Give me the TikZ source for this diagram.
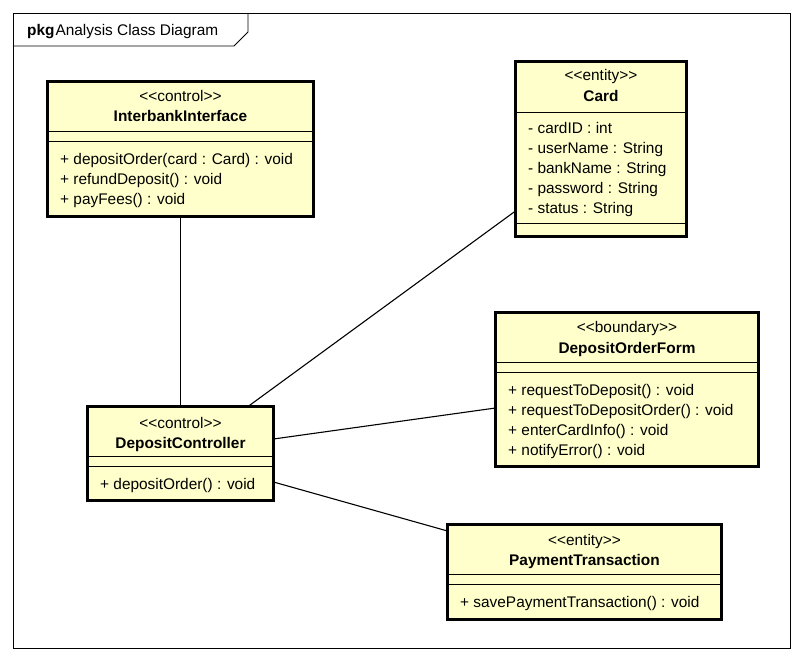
\documentclass[tikz,border=0pt]{standalone}
\usepackage{fontspec}
\newfontfamily\umlfont{Liberation Sans}
\definecolor{umlfill}{HTML}{FFFFCC}
\begin{document}
\begin{tikzpicture}[x=1pt,y=-1pt,
  font=\umlfont\fontsize{15.4}{18}\selectfont,
  cls/.style={draw, line width=3pt, fill=umlfill, anchor=north west, inner sep=0pt, outer sep=0pt},
  sepline/.style={line width=0.9pt},
  conn/.style={line width=1.1pt},
  stereo/.style={anchor=mid, inner sep=0pt, yshift=-2.5pt},
  cname/.style={anchor=mid, inner sep=0pt, yshift=-2.5pt, font=\umlfont\bfseries\fontsize{15.4}{18}\selectfont},
  member/.style={anchor=mid west, inner sep=0pt, yshift=-2.5pt},
  framebox/.style={draw, line width=0.9pt, anchor=north west, inner sep=0pt, outer sep=0pt, minimum width=777pt, minimum height=635pt}
]
\useasboundingbox (0,0) rectangle (804,661);
% frame
\node[framebox] (frame) at (13,13) {};
\draw[line width=0.9pt] (13,46) -- (234,46) -- (248,32) -- (248,13);
\node[anchor=mid west, inner sep=0pt, yshift=-2.5pt] (title) at (27,31) {\textbf{pkg}\kern1pt Analysis Class Diagram};

% InterbankInterface
\node[cls, minimum width=266pt, minimum height=135pt] (ii) at (47.5,81.5) {};
\draw[sepline] (ii.west |- 0,131) -- (ii.east |- 0,131);
\draw[sepline] (ii.west |- 0,141) -- (ii.east |- 0,141);
\node[stereo] (iis) at (ii.north |- 0,97) {<\kern0pt<control>\kern0pt>};
\node[cname] (iin) at (ii.north |- 0,117) {InterbankInterface};
\node[member] (iim1) at (60,160) {+ depositOrder(card : Card) : void};
\node[member] (iim2) at (60,180) {+ refundDeposit() : void};
\node[member] (iim3) at (60,200) {+ payFees() : void};

% Card
\node[cls, minimum width=171pt, minimum height=175pt] (card) at (515.5,61.5) {};
\draw[sepline] (card.west |- 0,112) -- (card.east |- 0,112);
\draw[sepline] (card.west |- 0,223) -- (card.east |- 0,223);
\node[stereo] (cards) at (card.north |- 0,76) {<\kern0pt<entity>\kern0pt>};
\node[cname] (cardn) at (card.north |- 0,97) {Card};
\node[member] (carda1) at (528,129) {- cardID : int};
\node[member] (carda2) at (528,149) {- userName : String};
\node[member] (carda3) at (528,169) {- bankName : String};
\node[member] (carda4) at (528,189) {- password : String};
\node[member] (carda5) at (528,209) {- status : String};

% DepositOrderForm
\node[cls, minimum width=263pt, minimum height=154pt] (dof) at (495.5,312.5) {};
\draw[sepline] (dof.west |- 0,362) -- (dof.east |- 0,362);
\draw[sepline] (dof.west |- 0,372) -- (dof.east |- 0,372);
\node[stereo] (dofs) at (dof.north |- 0,328) {<\kern0pt<boundary>\kern0pt>};
\node[cname] (dofn) at (dof.north |- 0,349) {DepositOrderForm};
\node[member] (dofm1) at (508,391) {+ requestToDeposit() : void};
\node[member] (dofm2) at (508,411) {+ requestToDepositOrder() : void};
\node[member] (dofm3) at (508,431) {+ enterCardInfo() : void};
\node[member] (dofm4) at (508,451) {+ notifyError() : void};

% DepositController
\node[cls, minimum width=186pt, minimum height=94pt] (dc) at (87.5,406.5) {};
\draw[sepline] (dc.west |- 0,456) -- (dc.east |- 0,456);
\draw[sepline] (dc.west |- 0,466) -- (dc.east |- 0,466);
\node[stereo] (dcs) at (dc.north |- 0,424) {<\kern0pt<control>\kern0pt>};
\node[cname] (dcn) at (dc.north |- 0,444) {DepositController};
\node[member] (dcm1) at (100,485) {+ depositOrder() : void};

% PaymentTransaction
\node[cls, minimum width=274pt, minimum height=95pt] (pt) at (447.5,524.5) {};
\draw[sepline] (pt.west |- 0,574) -- (pt.east |- 0,574);
\draw[sepline] (pt.west |- 0,584) -- (pt.east |- 0,584);
\node[stereo] (pts) at (pt.north |- 0,541) {<\kern0pt<entity>\kern0pt>};
\node[cname] (ptn) at (pt.north |- 0,561) {PaymentTransaction};
\node[member] (ptm1) at (460,603) {+ savePaymentTransaction() : void};

% connectors
\draw[conn] (ii.south) -- (dc.north);
\draw[conn] ([yshift=-62pt]card.west) -- ([xshift=67.5pt]dc.north);
\draw[conn] ([yshift=-18.5pt]dof.west) -- ([yshift=14.5pt]dc.east);
\draw[conn] ([yshift=41pt]pt.west) -- ([yshift=-28.5pt]dc.east);
\end{tikzpicture}
\end{document}
